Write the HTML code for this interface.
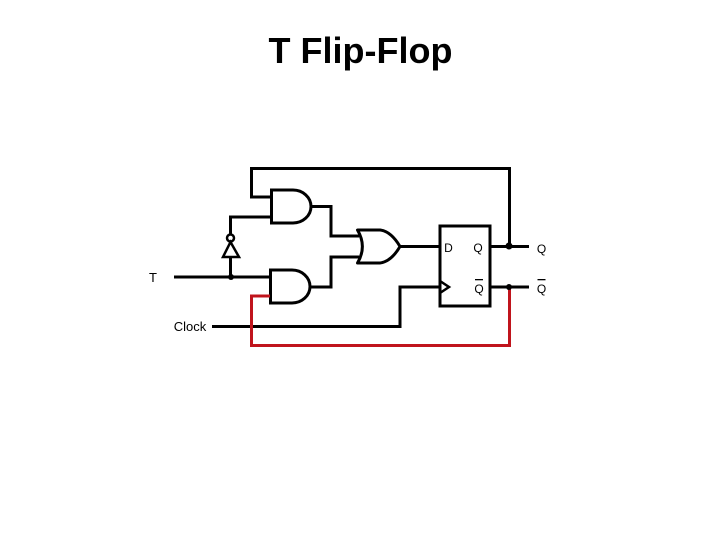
<!DOCTYPE html>
<html>
<head>
<meta charset="utf-8">
<style>
html,body{margin:0;padding:0;background:#fff;}
svg{display:block;}
text{font-family:"Liberation Sans",sans-serif;fill:#000;}
</style>
</head>
<body>
<svg width="720" height="540" viewBox="0 0 720 540" xmlns="http://www.w3.org/2000/svg">
<rect width="720" height="540" fill="#fff"/>
<text x="360.5" y="63" font-size="36" font-weight="bold" text-anchor="middle">T Flip-Flop</text>

<g fill="none" stroke="#000" stroke-width="3">
  <!-- feedback from Q -->
  <path d="M271 197H251.5V168.5H509.5V246.5"/>
  <!-- inverter path -->
  <path d="M271 217H230.5V234.5"/>
  <circle cx="230.5" cy="238" r="3.5" stroke-width="2.5"/>
  <path d="M230.5 242L239 257H223Z" stroke-width="2.5"/>
  <path d="M230.5 257V277"/>
  <!-- T -->
  <path d="M174 277H271"/>
  <!-- Clock -->
  <path d="M212 326.5H400V287H440"/>
  <!-- AND gates -->
  <path d="M271.5 190H293A18 16.5 0 0 1 293 223H271.5Z"/>
  <path d="M270.5 270H292A18 16.5 0 0 1 292 303H270.5Z"/>
  <!-- gate outputs -->
  <path d="M311 206.5H331V236H359"/>
  <path d="M310 287H331V257H359"/>
  <!-- OR gate -->
  <path d="M357.5 230H380C388 231 395 238 400 246.5C395 255 388 262 380 263H357.5C364 252 364 241 357.5 230Z" stroke-linejoin="round"/>
  <path d="M400 246.5H440"/>
  <!-- Flip-flop -->
  <rect x="440" y="226" width="50" height="80"/>
  <path d="M440 281L449 287L440 293" stroke-width="2.5"/>
  <!-- outputs -->
  <path d="M490 246.5H529"/>
  <path d="M490 287H529"/>
</g>

<!-- red wire -->
<path d="M270 296H251.5V345.5H509.5V288" fill="none" stroke="#c0141c" stroke-width="3"/>

<!-- junction dots -->
<circle cx="231" cy="277" r="3" fill="#000"/>
<circle cx="509" cy="246" r="3.5" fill="#000"/>
<circle cx="509" cy="287" r="3" fill="#000"/>

<!-- labels -->
<text x="448.5" y="252" font-size="12" text-anchor="middle">D</text>
<text x="478" y="252" font-size="12" text-anchor="middle">Q</text>
<text x="541.5" y="253" font-size="12" text-anchor="middle">Q</text>
<text x="479" y="293" font-size="12" text-anchor="middle">Q</text>
<text x="541.5" y="293" font-size="12" text-anchor="middle">Q</text>
<rect x="475" y="279" width="8" height="1.3" fill="#000"/>
<rect x="537.5" y="279" width="8" height="1.3" fill="#000"/>
<text x="153" y="282" font-size="13" text-anchor="middle">T</text>
<text x="190" y="331" font-size="13" text-anchor="middle">Clock</text>
</svg>
</body>
</html>
